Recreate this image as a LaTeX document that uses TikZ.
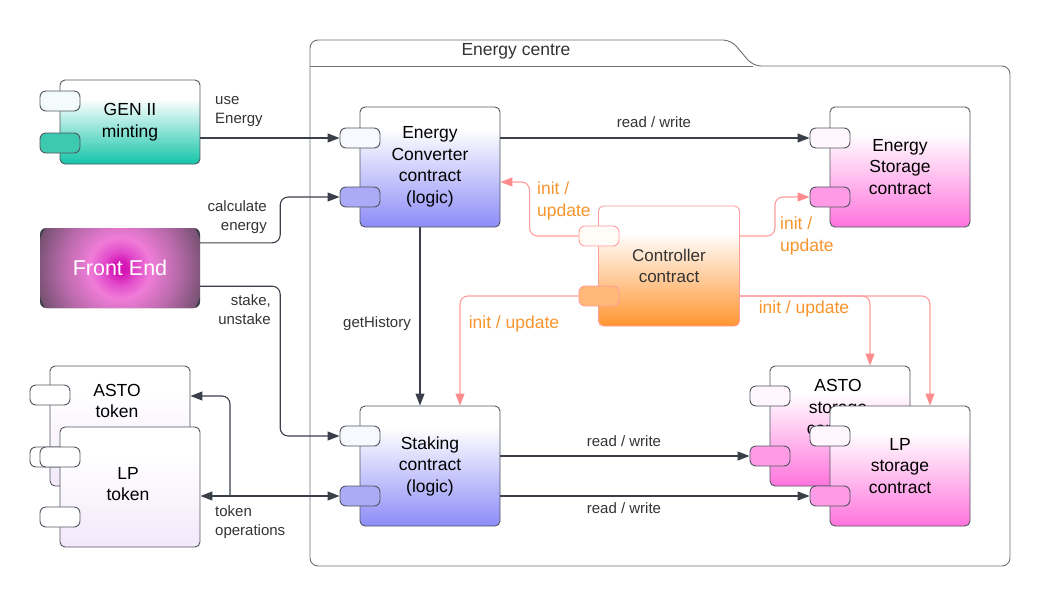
\documentclass[tikz,border=0pt]{standalone}
\usepackage{fontspec}
\setmainfont{Liberation Sans}
\usetikzlibrary{arrows.meta}
\definecolor{lineC}{HTML}{3A3F4A}
\definecolor{bordC}{HTML}{50555E}
\definecolor{labC}{HTML}{333333}
\definecolor{tealB}{HTML}{14C4A9}
\definecolor{tealP}{HTML}{3CC9B0}
\definecolor{blueB}{HTML}{8C8CF8}
\definecolor{blueP}{HTML}{AAAAF7}
\definecolor{pinkB}{HTML}{FF74DD}
\definecolor{pinkP}{HTML}{FF9BE6}
\definecolor{orB}{HTML}{FF9530}
\definecolor{orP}{HTML}{FFB878}
\definecolor{lavB}{HTML}{F3E8FA}
\definecolor{pinkL}{HTML}{FF9C9C}
\definecolor{pinkA}{HTML}{FF8C8C}
\definecolor{orT}{HTML}{F7942E}
\definecolor{feA}{HTML}{D417B4}
\definecolor{feA2}{HTML}{E24CCB}
\definecolor{feB}{HTML}{F07CD8}
\definecolor{feC}{HTML}{B86AAA}
\definecolor{feC2}{HTML}{6E4E6B}
\definecolor{feD}{HTML}{3C3F4B}
\pgfdeclareverticalshading{tealsh}{100bp}{color(0bp)=(tealB); color(25bp)=(tealB); color(64bp)=(white); color(100bp)=(white)}
\pgfdeclareverticalshading{bluesh}{100bp}{color(0bp)=(blueB); color(25bp)=(blueB); color(66bp)=(white); color(100bp)=(white)}
\pgfdeclareverticalshading{pinksh}{100bp}{color(0bp)=(pinkB); color(25bp)=(pinkB); color(64bp)=(white); color(100bp)=(white)}
\pgfdeclareverticalshading{orsh}{100bp}{color(0bp)=(orB); color(25bp)=(orB); color(64bp)=(white); color(100bp)=(white)}
\pgfdeclareverticalshading{lavsh}{100bp}{color(0bp)=(lavB); color(25bp)=(lavB); color(64bp)=(white); color(100bp)=(white)}
\pgfdeclareradialshading{fesh}{\pgfpoint{0bp}{0bp}}{color(0bp)=(feA); color(2bp)=(feA); color(5bp)=(feA2); color(9bp)=(feB); color(17bp)=(feC); color(26bp)=(feC2); color(34bp)=(feD); color(50bp)=(feD)}
\newcommand\myBoxFont{\fontsize{17.5}{21.5}\selectfont}
\newcommand\myLabFont{\fontsize{15}{19}\selectfont}
\newcommand\myOrFont{\fontsize{17.5}{22}\selectfont}
\tikzset{
  body/.style={draw=bordC, line width=0.9pt, rounded corners=5pt, minimum width=140pt, minimum height=120pt, inner sep=0pt, align=center, font=\myBoxFont, text=black},
  port/.style={draw=bordC, line width=0.9pt, rounded corners=6pt, minimum width=40pt, minimum height=20pt, inner sep=0pt},
  btxt/.style={align=center, font=\myBoxFont, text=black, inner sep=0pt},
  conn/.style={draw=lineC, line width=1.1pt, ->, rounded corners=8pt},
  pconn/.style={draw=pinkL, line width=1.1pt, -{Triangle[length=12pt,width=9pt,color=pinkA]}, rounded corners=8pt},
  lab/.style={text=labC, font=\myLabFont, inner sep=0pt},
  olab/.style={text=orT, font=\myOrFont, inner sep=0pt, align=left},
  frame/.style={draw=bordC!85, line width=0.9pt}
}
\begin{document}
\begin{tikzpicture}[x=1pt, y=-1pt, >={Triangle[length=12pt,width=9pt]}]
\useasboundingbox (0,0) rectangle (1050,603);
% frame
\draw[frame, rounded corners=8pt] (310,566) -- (310,40) -- (731,40) -- (753,66) -- (1010,66) -- (1010,566) -- cycle;
\draw[frame] (310,66) -- (753,66);
\node[text=labC, font=\fontsize{17.5}{20}\selectfont] (ecl) at (516,51) {Energy centre};
% GEN II
\node[body, minimum height=84pt, shade, shading=tealsh] (gen) at (130,122) {GEN II\\minting};
\node[port, fill=white!95!tealB] (genp1) at (60,101) {};
\node[port, fill=tealP] (genp2) at (60,143) {};
% Front End
\node[rounded corners=6pt, fill=feD, minimum width=160pt, minimum height=80pt, inner sep=0pt, text=white, font=\fontsize{21.5}{26}\selectfont,
  path picture={\shade[shading=fesh] (path picture bounding box.center) circle (85pt);}] (fe) at (120,268) {Front End};
% ASTO token
\node[body, shade, shading=lavsh] (atok) at (120,426) {};
\node[port, fill=white] (atp1) at (50,395) {};
\node[port, fill=white] (atp2) at (50,457) {};
\node[btxt] (atxt) at (117,401) {ASTO\\token};
% LP token
\node[body, shade, shading=lavsh] (ltok) at (130,487) {};
\node[port, fill=white] (ltp1) at (60,457) {};
\node[port, fill=white] (ltp2) at (60,517) {};
\node[btxt] (ltxt) at (128,484) {LP\\token};
% Energy Converter
\node[body, shade, shading=bluesh] (ec) at (430,167) {Energy\\Converter\\contract\\(logic)};
\node[port, fill=white!94!blueB] (ecp1) at (360,138) {};
\node[port, fill=blueP] (ecp2) at (360,197) {};
% Energy Storage
\node[body, shade, shading=pinksh] (es) at (900,167) {Energy\\Storage\\contract};
\node[port, fill=white!94!pinkB] (esp1) at (830,138) {};
\node[port, fill=pinkP] (esp2) at (830,197) {};
% Controller
\node[body, draw=pinkL, minimum width=141pt, shade, shading=orsh, text=labC, font=\fontsize{17}{21.5}\selectfont] (ct) at (669,266) {Controller\\contract};
\node[port, draw=pinkL, fill=white!96!orB] (ctp1) at (599,236) {};
\node[port, draw=pinkL, fill=orP] (ctp2) at (599,296) {};
% Staking
\node[body, shade, shading=bluesh] (st) at (430,466) {Staking\\contract\\(logic)};
\node[port, fill=white!94!blueB] (stp1) at (360,436) {};
\node[port, fill=blueP] (stp2) at (360,496) {};
% ASTO storage
\node[body, shade, shading=pinksh] (as) at (840,426) {};
\node[port, fill=white!94!pinkB] (asp1) at (770,396) {};
\node[port, fill=pinkP] (asp2) at (770,456) {};
\node[btxt] (astxt) at (838,407) {ASTO\\storage\\contract};
% LP storage
\node[body, shade, shading=pinksh] (ls) at (900,466) {LP\\storage\\contract};
\node[port, fill=white!94!pinkB] (lsp1) at (830,436) {};
\node[port, fill=pinkP] (lsp2) at (830,496) {};
% dark connectors
\draw[conn] (gen.east |- ecp1) -- (ecp1.west);
\draw[conn] ([yshift=-15pt]fe.north east) -- ++(80,0) |- (ecp2.west);
\draw[conn] ([yshift=22pt]fe.south east) -- ++(80,0) |- (stp1.west);
\draw[conn, <->] (ltok.east |- stp2) -- (stp2.west);
\coordinate (tj) at (230,496);
\draw[conn] (tj) |- ([yshift=30pt]atok.east);
\draw[conn] (ec.east |- esp1) -- (esp1.west);
\draw[conn] ([xshift=-10pt]ec.south) -- ([xshift=-10pt]st.north);
\draw[conn] (st.east |- asp2) -- (asp2.west);
\draw[conn] (st.east |- lsp2) -- (lsp2.west);
% pink connectors
\draw[pconn] (ctp1.west) -- ++(-49,0) |- ([yshift=-15pt]ec.east);
\draw[pconn] (ct.east |- ctp1) -- ++(35,0) |- (esp2.west);
\draw[pconn] (ctp2.west) -| ([xshift=30pt]st.north);
\draw[pconn] (ct.east |- ctp2) -| ([xshift=30pt]as.north);
\draw[pconn] (ct.east |- ctp2) -| ([xshift=30pt]ls.north);
% labels
\node[lab, anchor=west, align=left] (l1) at (215,112) {use\\Energy};
\node[lab, anchor=east, align=right] (l2) at (267,217) {calculate\\energy};
\node[lab, anchor=east, align=right] (l3) at (271,310) {stake,\\unstake};
\node[lab, anchor=west, align=left] (l4) at (215,522) {token\\operations};
\node[lab] (l5) at (654,122) {read / write};
\node[lab] (l6) at (624,441) {read / write};
\node[lab] (l7) at (624,508) {read / write};
\node[lab] (l8) at (377,324) {getHistory};
\node[olab, anchor=west] (o1) at (537,201) {init /\\update};
\node[olab, anchor=west] (o2) at (780,236) {init /\\update};
\node[olab] (o3) at (514,324) {init / update};
\node[olab] (o4) at (804,309) {init / update};
\end{tikzpicture}
\end{document}
